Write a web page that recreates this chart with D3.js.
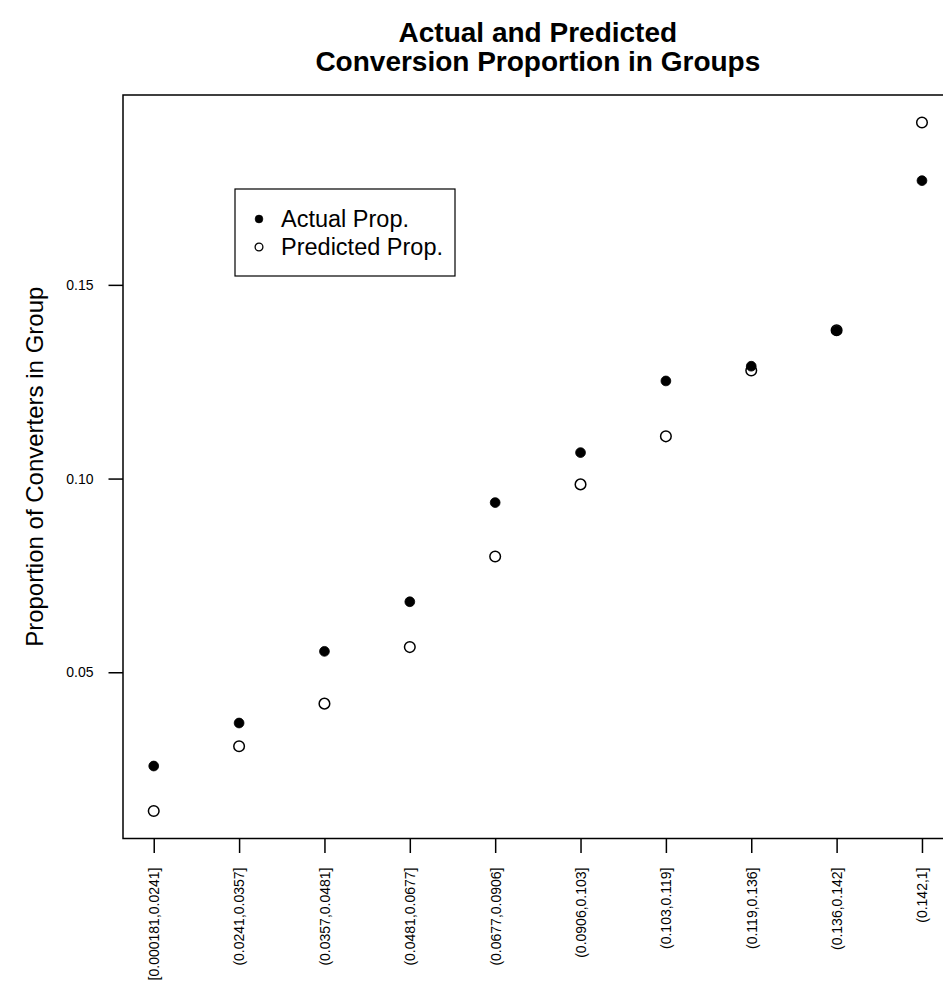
<!DOCTYPE html>
<html>
<head>
<meta charset="utf-8">
<script src="https://cdn.jsdelivr.net/npm/d3@7"></script>
<style>
  html, body { margin: 0; padding: 0; background: #fff; }
  svg { display: block; font-family: "Liberation Sans", Arial, Helvetica, sans-serif; }
</style>
</head>
<body>
<svg id="chart" width="943" height="983"></svg>
<script>
// Score groups (bins of predicted probability)
const categories = [
  "[0.000181,0.0241]", "(0.0241,0.0357]", "(0.0357,0.0481]", "(0.0481,0.0677]",
  "(0.0677,0.0906]", "(0.0906,0.103]", "(0.103,0.119]", "(0.119,0.136]",
  "(0.136,0.142]", "(0.142,1]"
];
// Observed share of converters per group
const actualProp = [0.0258, 0.0369, 0.0554, 0.0682, 0.0938, 0.1067, 0.1252, 0.1290, 0.1382, 0.1769];
// Mean predicted probability per group
const predictedProp = [0.0142, 0.0309, 0.0419, 0.0565, 0.0799, 0.0985, 0.1109, 0.1279, 0.1383, 0.1919];
const yTicks = [0.05, 0.10, 0.15];
const titleLines = ["Actual and Predicted", "Conversion Proportion in Groups"];
const yLabel = "Proportion of Converters in Group";
const legendLabels = ["Actual Prop.", "Predicted Prop."];

const FONT = "\"Liberation Sans\", Arial, Helvetica, sans-serif";
const svg = d3.select("#chart");
const plot = { left: 123, right: 952.7, top: 95, bottom: 838.5 };

// Axis ranges padded by 4% on each side
const n = categories.length;
const xPad = (n - 1) * 0.04;
const x = d3.scaleLinear().domain([1 - xPad, n + xPad]).range([plot.left, plot.right]);

const [lo, hi] = d3.extent(actualProp.concat(predictedProp));
const yPad = (hi - lo) * 0.04;
const y = d3.scaleLinear().domain([lo - yPad, hi + yPad]).range([plot.bottom, plot.top]);

// Title
svg.append("g").selectAll("text").data(titleLines).join("text")
  .attr("x", (plot.left + plot.right) / 2)
  .attr("y", (d, i) => 42 + i * 28.5)
  .attr("text-anchor", "middle")
  .attr("font-weight", "bold")
  .attr("font-size", 28)
  .text(d => d);

// Y axis
const yAxis = svg.append("g")
  .attr("transform", `translate(${plot.left},0)`)
  .call(d3.axisLeft(y).tickValues(yTicks).tickFormat(d3.format(".2f")).tickSize(14.5).tickSizeOuter(0).tickPadding(15));
yAxis.select(".domain").remove();
yAxis.selectAll("line").attr("stroke", "#000").attr("stroke-width", 1.5);
yAxis.selectAll("text").attr("font-size", 14).attr("fill", "#000").attr("font-family", FONT);

// X axis with rotated group labels
const xAxis = svg.append("g")
  .attr("transform", `translate(0,${plot.bottom})`)
  .call(d3.axisBottom(x).tickValues(d3.range(1, n + 1)).tickFormat(d => categories[d - 1]).tickSize(14.5).tickSizeOuter(0));
xAxis.select(".domain").remove();
xAxis.selectAll("line").attr("stroke", "#000").attr("stroke-width", 1.5);
xAxis.selectAll("text")
  .attr("font-size", 14).attr("fill", "#000").attr("font-family", FONT)
  .attr("transform", "rotate(-90)")
  .attr("text-anchor", "end")
  .attr("x", -29)
  .attr("y", 0)
  .attr("dy", "0.35em");

// Y axis title
svg.append("text")
  .attr("transform", `translate(43,${(plot.top + plot.bottom) / 2}) rotate(-90)`)
  .attr("text-anchor", "middle")
  .attr("font-size", 24)
  .text(yLabel);

// Plot frame
svg.append("rect")
  .attr("x", plot.left).attr("y", plot.top)
  .attr("width", plot.right - plot.left).attr("height", plot.bottom - plot.top)
  .attr("fill", "none").attr("stroke", "#000").attr("stroke-width", 1.5);

// Actual proportions: filled dots
svg.append("g").selectAll("circle").data(actualProp).join("circle")
  .attr("cx", (d, i) => x(i + 1))
  .attr("cy", d => y(d))
  .attr("r", 4.9)
  .attr("fill", "#000").attr("stroke", "#000").attr("stroke-width", 0.8);

// Predicted proportions: open circles
svg.append("g").selectAll("circle").data(predictedProp).join("circle")
  .attr("cx", (d, i) => x(i + 1))
  .attr("cy", d => y(d))
  .attr("r", 5.3)
  .attr("fill", "none").attr("stroke", "#000").attr("stroke-width", 1.5);

// Legend
const legend = svg.append("g").attr("transform", "translate(235,189)");
legend.append("rect").attr("width", 220).attr("height", 87)
  .attr("fill", "#fff").attr("stroke", "#000").attr("stroke-width", 1.2);
const rows = legend.selectAll("g.row").data(legendLabels).join("g")
  .attr("class", "row")
  .attr("transform", (d, i) => `translate(0,${30 + i * 28})`);
rows.append("circle")
  .attr("cx", 24).attr("cy", 0).attr("r", 3.9)
  .attr("fill", (d, i) => i === 0 ? "#000" : "none")
  .attr("stroke", "#000").attr("stroke-width", (d, i) => i === 0 ? 0.6 : 1.3);
rows.append("text")
  .attr("x", 46).attr("y", 0).attr("dy", "0.36em")
  .attr("font-size", 23.5)
  .text(d => d);
</script>
</body>
</html>
